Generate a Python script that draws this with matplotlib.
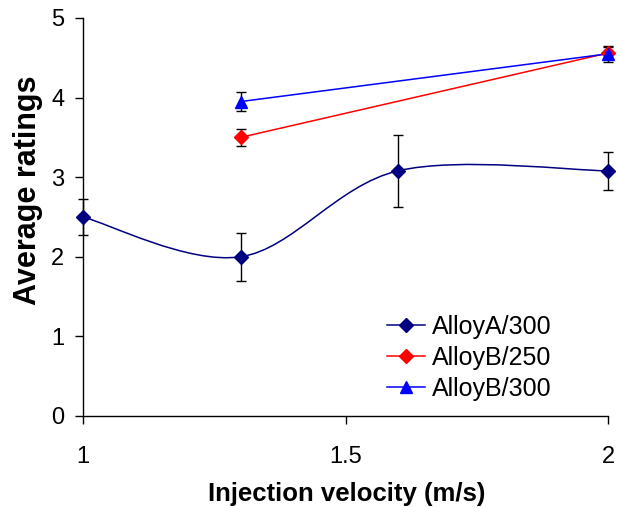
import numpy as np
import matplotlib.pyplot as plt
from matplotlib.path import Path
from matplotlib.patches import PathPatch
from matplotlib.lines import Line2D

plt.rcParams['font.family'] = ['Liberation Sans', 'DejaVu Sans']

# --- data ---
x_a = [1.0, 1.3, 1.6, 2.0]
y_a = [2.5, 2.0, 3.08, 3.08]
err_a = [0.23, 0.30, 0.45, 0.24]

x_b250 = [1.3, 2.0]
y_b250 = [3.50, 4.56]
err_b250 = [0.11, 0.08]

x_b300 = [1.3, 2.0]
y_b300 = [3.95, 4.55]
err_b300 = [0.12, 0.10]

labels = ['AlloyA/300', 'AlloyB/250', 'AlloyB/300']
c_a, c_b250, c_b300 = '#000080', '#FF0000', '#0000FF'


def smooth_path(xs, ys):
    # Excel-like smoothed line: cubic Bezier segments (Catmull-Rom, 1/6 tension)
    pts = np.column_stack([xs, ys])
    n = len(pts)
    verts = [pts[0]]
    codes = [Path.MOVETO]
    for i in range(n - 1):
        p0 = pts[max(i - 1, 0)]
        p1 = pts[i]
        p2 = pts[i + 1]
        p3 = pts[min(i + 2, n - 1)]
        verts += [p1 + (p2 - p0) / 6, p2 - (p3 - p1) / 6, p2]
        codes += [Path.CURVE4] * 3
    return Path(verts, codes)


fig = plt.figure(figsize=(6.19, 5.08), dpi=100)
ax = fig.add_axes([83 / 619, 92 / 508, 525 / 619, 398 / 508])

# AlloyA smoothed line
ax.add_patch(PathPatch(smooth_path(x_a, y_a), facecolor='none', edgecolor=c_a,
                       lw=1.1, transform=ax.transData))
# straight lines for AlloyB
ax.plot(x_b250, y_b250, color=c_b250, lw=1.1)
ax.plot(x_b300, y_b300, color=c_b300, lw=1.1)

ekw = dict(ecolor='black', elinewidth=1.0, capsize=3.5, capthick=1.0,
           linestyle='none', clip_on=False, zorder=3)
ax.errorbar(x_a, y_a, yerr=err_a, fmt='D', ms=7, mfc=c_a, mec=c_a, **ekw)
ax.errorbar(x_b250, y_b250, yerr=err_b250, fmt='D', ms=7, mfc=c_b250, mec=c_b250, **ekw)
ax.errorbar(x_b300, y_b300, yerr=err_b300, fmt='^', ms=9, mfc=c_b300, mec=c_b300, **ekw)

ax.set_xlim(1, 2)
ax.set_ylim(0, 5)
ax.set_xticks([1, 1.5, 2])
ax.set_xticklabels(['1', '1.5', '2'])
ax.set_yticks([0, 1, 2, 3, 4, 5])

for s in ['top', 'right']:
    ax.spines[s].set_visible(False)
for s in ['left', 'bottom']:
    ax.spines[s].set_linewidth(1.0)

ax.tick_params(axis='both', direction='out', length=5.5, width=1.0, labelsize=17)
ax.tick_params(axis='x', pad=16)
ax.tick_params(axis='y', pad=8)

ax.set_xlabel('Injection velocity (m/s)', fontsize=18.5, fontweight='bold')
ax.set_ylabel('Average ratings', fontsize=22, fontweight='bold')
ax.xaxis.set_label_coords(0.502, -0.166)
ax.yaxis.set_label_coords(-0.076, 0.568)

handles = [
    Line2D([], [], color=c_a, lw=1.1, marker='D', ms=7),
    Line2D([], [], color=c_b250, lw=1.1, marker='D', ms=7),
    Line2D([], [], color=c_b300, lw=1.1, marker='^', ms=9),
]
ax.legend(handles, labels, loc='upper left', bbox_to_anchor=(0.579, 0.254),
          frameon=False, fontsize=18, borderaxespad=0, borderpad=0,
          handlelength=1.52, handletextpad=0.28, labelspacing=0.28)

fig.savefig('out.png', dpi=100)
